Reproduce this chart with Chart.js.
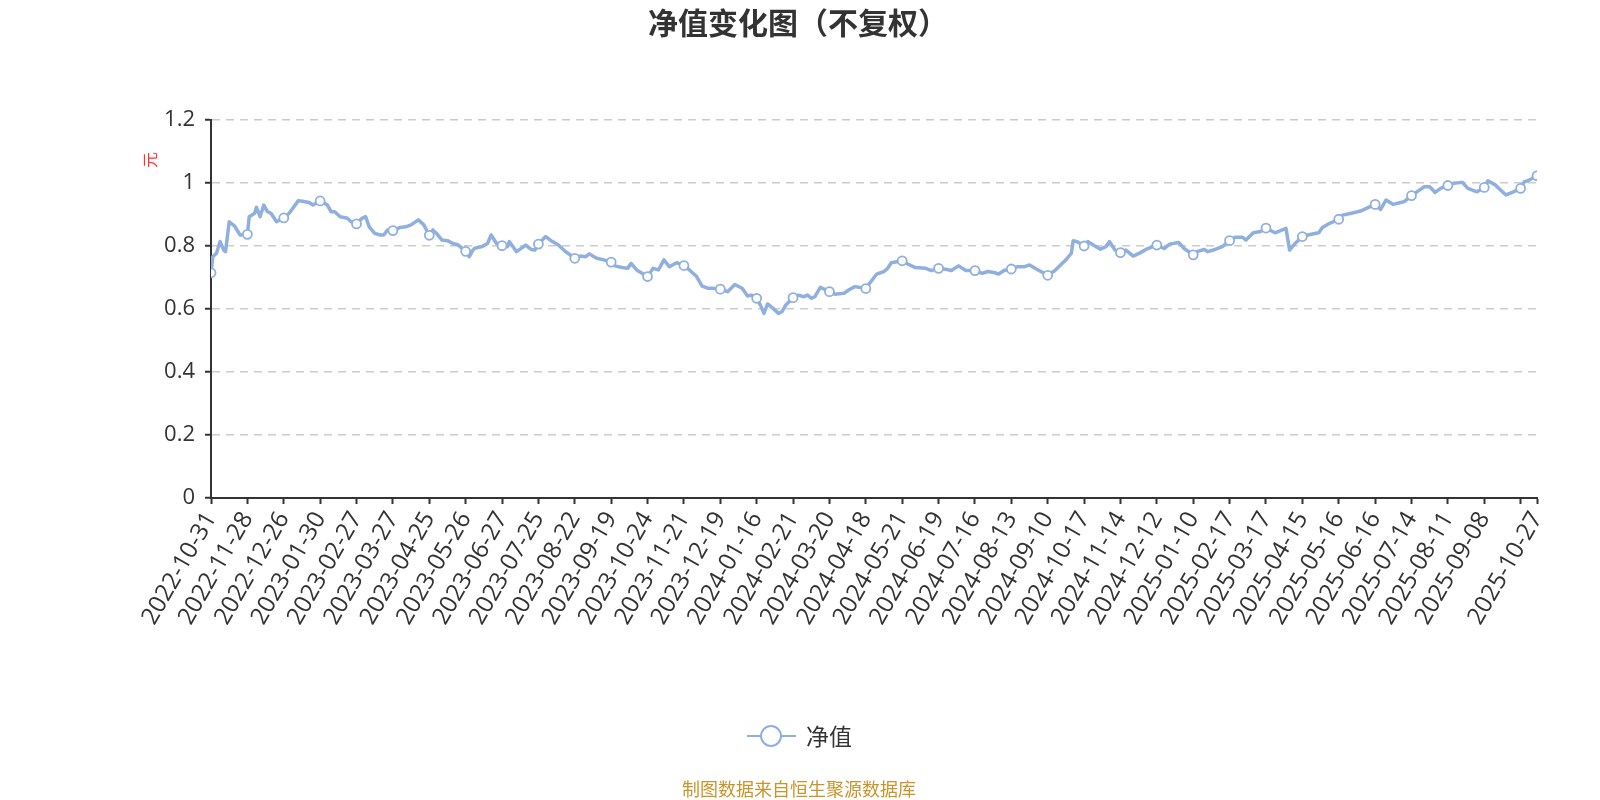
<!DOCTYPE html>
<html>
<head>
<meta charset="utf-8">
<script src="https://cdn.jsdelivr.net/npm/chart.js@4.4.1/dist/chart.umd.min.js"></script>
<style>
  body { margin: 0; background: #fff; }
  canvas { display: block; }
</style>
</head>
<body>
<canvas id="navChart" width="1600" height="800"></canvas>
<script>
// trading-day index of each sampled point, and the net value read at that point
const navIdx = [
    0, 1, 3, 5, 7, 8, 10, 13, 16, 20, 21, 24, 25, 27, 29, 31, 33, 36, 40, 43,
    48, 51, 54, 56, 60, 64, 66, 68, 71, 75, 77, 80, 83, 85, 87, 90, 93, 95, 97, 100,
    104, 107, 110, 114, 117, 120, 122, 124, 127, 130, 133, 136, 140, 142, 144, 145, 149, 152, 154, 157,
    160, 163, 164, 168, 173, 176, 178, 180, 184, 187, 191, 195, 200, 203, 206, 208, 212, 216, 220, 222,
    226, 229, 231, 234, 240, 243, 246, 249, 252, 256, 260, 263, 267, 270, 273, 276, 280, 284, 288, 292,
    295, 297, 300, 302, 304, 306, 309, 312, 314, 316, 320, 323, 326, 328, 330, 332, 335, 340, 343, 348,
    351, 354, 360, 362, 366, 370, 372, 374, 380, 383, 387, 393, 396, 400, 404, 407, 411, 415, 420, 424,
    427, 431, 433, 436, 440, 443, 447, 450, 454, 460, 464, 468, 470, 473, 474, 476, 480, 482, 485, 489,
    492, 494, 497, 500, 503, 507, 511, 514, 520, 524, 527, 532, 535, 540, 542, 546, 548, 552, 556, 560,
    563, 567, 569, 573, 577, 580, 582, 585, 588, 591, 593, 596, 600, 603, 609, 611, 615, 620, 622, 627,
    632, 634, 640, 643, 646, 650, 654, 656, 660, 663, 667, 670, 673, 676, 680, 683, 688, 691, 696, 700,
    702, 706, 710, 712, 716, 720, 722, 724, 729
];
const navValues = [
    0.715, 0.766, 0.777, 0.814, 0.787, 0.782, 0.877, 0.863, 0.835, 0.837, 0.893, 0.904, 0.923, 0.893, 0.930, 0.909, 0.904, 0.877, 0.889, 0.904,
    0.944, 0.941, 0.938, 0.930, 0.943, 0.930, 0.909, 0.909, 0.893, 0.888, 0.877, 0.870, 0.888, 0.893, 0.861, 0.840, 0.835, 0.835, 0.851, 0.849,
    0.859, 0.861, 0.867, 0.883, 0.867, 0.834, 0.851, 0.840, 0.819, 0.817, 0.808, 0.803, 0.783, 0.766, 0.787, 0.793, 0.798, 0.808, 0.835, 0.808,
    0.801, 0.798, 0.814, 0.782, 0.803, 0.789, 0.787, 0.806, 0.830, 0.817, 0.803, 0.782, 0.761, 0.768, 0.766, 0.775, 0.761, 0.756, 0.749, 0.737,
    0.732, 0.729, 0.745, 0.724, 0.703, 0.729, 0.724, 0.756, 0.734, 0.747, 0.738, 0.724, 0.703, 0.673, 0.666, 0.666, 0.663, 0.655, 0.678, 0.666,
    0.641, 0.644, 0.634, 0.613, 0.586, 0.616, 0.602, 0.586, 0.592, 0.613, 0.636, 0.644, 0.639, 0.644, 0.634, 0.639, 0.669, 0.655, 0.647, 0.650,
    0.662, 0.671, 0.665, 0.681, 0.711, 0.719, 0.729, 0.747, 0.753, 0.743, 0.732, 0.729, 0.722, 0.729, 0.726, 0.722, 0.737, 0.722, 0.722, 0.713,
    0.719, 0.715, 0.711, 0.722, 0.727, 0.734, 0.734, 0.740, 0.726, 0.707, 0.722, 0.745, 0.756, 0.777, 0.817, 0.814, 0.800, 0.814, 0.803, 0.790,
    0.798, 0.814, 0.787, 0.779, 0.787, 0.768, 0.779, 0.789, 0.803, 0.792, 0.806, 0.811, 0.792, 0.772, 0.782, 0.789, 0.782, 0.789, 0.798, 0.817,
    0.828, 0.828, 0.819, 0.842, 0.846, 0.857, 0.851, 0.842, 0.849, 0.856, 0.787, 0.808, 0.830, 0.835, 0.842, 0.859, 0.872, 0.885, 0.898, 0.904,
    0.911, 0.916, 0.932, 0.916, 0.946, 0.932, 0.938, 0.941, 0.960, 0.972, 0.988, 0.988, 0.970, 0.983, 0.992, 0.999, 1.002, 0.983, 0.972, 0.986,
    1.007, 0.994, 0.972, 0.962, 0.972, 0.983, 1.004, 1.007, 1.023
];

// x-axis ticks (every 20 trading days plus the last day)
const tickIdx = [
    0, 20, 40, 60, 80, 100, 120, 140, 160, 180, 200, 220, 240, 260, 280, 300, 320, 340, 360, 380,
    400, 420, 440, 460, 480, 500, 520, 540, 560, 580, 600, 620, 640, 660, 680, 700, 720, 729
];
const tickLabels = [
    '2022-10-31', '2022-11-28', '2022-12-26', '2023-01-30', '2023-02-27', '2023-03-27', '2023-04-25', '2023-05-26',
    '2023-06-27', '2023-07-25', '2023-08-22', '2023-09-19', '2023-10-24', '2023-11-21', '2023-12-19', '2024-01-16',
    '2024-02-21', '2024-03-20', '2024-04-18', '2024-05-21', '2024-06-19', '2024-07-16', '2024-08-13', '2024-09-10',
    '2024-10-17', '2024-11-14', '2024-12-12', '2025-01-10', '2025-02-17', '2025-03-17', '2025-04-15', '2025-05-16',
    '2025-06-16', '2025-07-14', '2025-08-11', '2025-09-08', '', '2025-10-27'
];
const yTicks = [0, 0.2, 0.4, 0.6, 0.8, 1, 1.2];

const titleText = '净值变化图（不复权）';
const seriesName = '净值';
const yUnit = '元';
const sourceText = '制图数据来自恒生聚源数据库';

const lineColor = 'rgb(143,176,222)';
const fontFamily = "'Open Sans', 'Noto Sans CJK SC', sans-serif";
const cjkFont = "'Noto Sans CJK SC', 'Open Sans', sans-serif";

const markerSet = new Set(tickIdx);

// title, unit label, legend and source note
const textPlugin = {
    id: 'textPlugin',
    afterDraw(chart) {
        const ctx = chart.ctx;
        ctx.save();
        ctx.textBaseline = 'middle';

        ctx.fillStyle = '#333';
        ctx.font = 'bold 30px ' + cjkFont;
        ctx.textAlign = 'center';
        ctx.fillText(titleText, 798, 23);

        ctx.save();
        ctx.translate(150, 160);
        ctx.rotate(-Math.PI / 2);
        ctx.fillStyle = '#ff3333';
        ctx.font = '16px ' + cjkFont;
        ctx.fillText(yUnit, 0, 0);
        ctx.restore();

        // legend
        ctx.strokeStyle = lineColor;
        ctx.lineWidth = 2;
        ctx.beginPath();
        ctx.moveTo(747, 736);
        ctx.lineTo(796, 736);
        ctx.stroke();
        ctx.beginPath();
        ctx.arc(771, 736, 10, 0, Math.PI * 2);
        ctx.fillStyle = '#fff';
        ctx.fill();
        ctx.stroke();
        ctx.fillStyle = '#333';
        ctx.font = '23px ' + cjkFont;
        ctx.textAlign = 'left';
        ctx.fillText(seriesName, 806, 736);

        ctx.fillStyle = '#c8942c';
        ctx.font = '18px ' + cjkFont;
        ctx.textAlign = 'center';
        ctx.fillText(sourceText, 799, 789);
        ctx.restore();
    }
};

const chartConfig = {
    type: 'line',
    data: {
        datasets: [{
            label: seriesName,
            data: navIdx.map((x, i) => ({ x: x, y: navValues[i] })),
            borderColor: lineColor,
            borderWidth: 3.5,
            borderJoinStyle: 'round',
            tension: 0,
            fill: false,
            pointRadius: ctx => markerSet.has(navIdx[ctx.dataIndex]) ? 4.5 : 0,
            pointBackgroundColor: '#fff',
            pointBorderColor: lineColor,
            pointBorderWidth: 1.8
        }]
    },
    options: {
        responsive: false,
        animation: false,
        layout: {
            padding: { left: 0, top: 120, right: 63, bottom: 0 }
        },
        plugins: {
            legend: { display: false },
            title: { display: false },
            tooltip: { enabled: false }
        },
        scales: {
            x: {
                type: 'linear',
                min: 0,
                max: 729,
                afterBuildTicks: scale => {
                    scale.ticks = tickIdx.map(v => ({ value: v }));
                },
                afterFit: scale => { scale.height = 302; },
                ticks: {
                    autoSkip: false,
                    minRotation: 60,
                    maxRotation: 60,
                    padding: 3,
                    color: '#333',
                    font: { size: 24, family: fontFamily },
                    callback: value => tickLabels[tickIdx.indexOf(value)]
                },
                grid: {
                    drawOnChartArea: false,
                    drawTicks: true,
                    tickLength: 6,
                    tickColor: '#333',
                    tickWidth: 2
                },
                border: { color: '#333', width: 2 }
            },
            y: {
                min: 0,
                max: 1.2,
                afterBuildTicks: scale => {
                    scale.ticks = yTicks.map(v => ({ value: v }));
                },
                afterFit: scale => { scale.width = 211; },
                ticks: {
                    padding: 10,
                    color: '#333',
                    font: { size: 22, family: fontFamily },
                    callback: value => String(Math.round(value * 10) / 10)
                },
                grid: {
                    color: '#cccccc',
                    lineWidth: 1.5,
                    tickLength: 6,
                    tickColor: '#333',
                    tickWidth: 2,
                    tickBorderDash: []
                },
                border: { color: '#333', width: 2, dash: [8, 6] }
            }
        }
    },
    plugins: [textPlugin]
};

new Chart(document.getElementById('navChart'), chartConfig);
</script>
</body>
</html>
